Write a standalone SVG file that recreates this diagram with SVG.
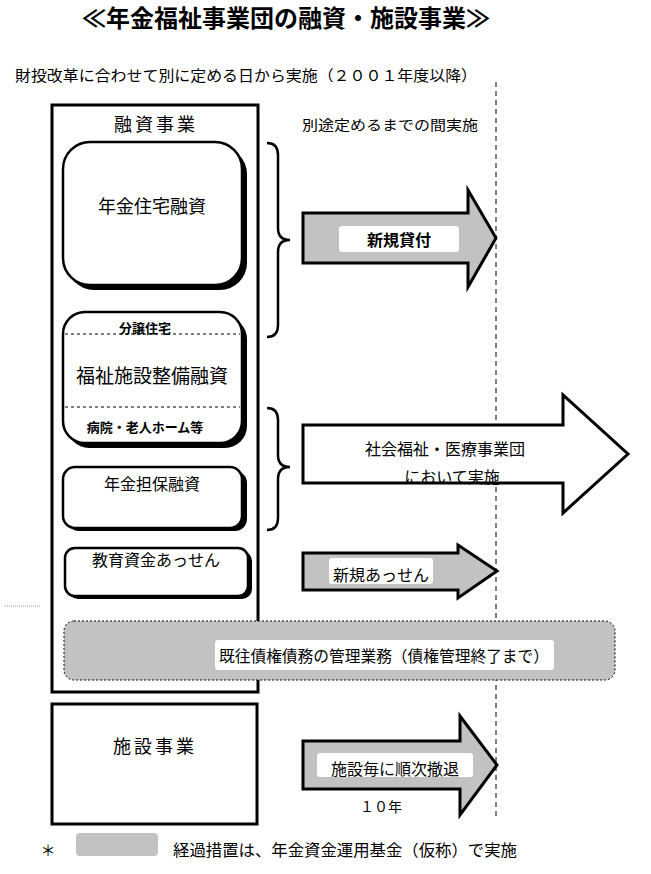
<svg xmlns="http://www.w3.org/2000/svg" width="651" height="874" viewBox="0 0 651 874">
<defs>
<style>
text{font-family:"Noto Sans CJK JP","Noto Sans CJK SC",sans-serif;fill:#000;}
.c{text-anchor:middle;}
.b{font-weight:bold;}
.box{fill:#fff;stroke:#000;stroke-width:2.5;}
.shadow{fill:#000;}
.arrow{stroke:#000;stroke-width:3;stroke-linejoin:miter;}
.gray{fill:#c2c2c2;}
.brace{fill:none;stroke:#000;stroke-width:2.5;}
.inner{stroke:#000;stroke-width:1;stroke-dasharray:3,3;}
.lbl{fill:#fff;}
</style>
</defs>
<rect width="651" height="874" fill="#fff"/>

<g id="connectors">
<line x1="496" y1="82" x2="496" y2="820" stroke="#000" stroke-width="1" stroke-dasharray="5,4"/>
<line x1="5" y1="606" x2="40" y2="606" stroke="#999" stroke-width="1" stroke-dasharray="1,1"/>
<path class="brace" d="M267,143 Q278,143 278,155 L278,228 Q278,240 290,240 Q278,240 278,252 L278,325 Q278,337 267,337"/>
<path class="brace" d="M267,408 Q278,408 278,420 L278,455 Q278,467 290,467 Q278,467 278,479 L278,518 Q278,530 267,530"/>
</g>

<g id="title">
<text x="286" y="27" class="c b" font-size="24">≪年金福祉事業団の融資・施設事業≫</text>
</g>
<g id="subtitle">
<text x="15" y="81" font-size="15" textLength="462" lengthAdjust="spacingAndGlyphs">財投改革に合わせて別に定める日から実施（２００１年度以降）</text>
</g>
<g id="note-top">
<text x="302" y="130" font-size="14" textLength="176" lengthAdjust="spacingAndGlyphs">別途定めるまでの間実施</text>
</g>

<g id="yushi-jigyo">
<rect x="52" y="105" width="206" height="587" fill="none" stroke="#000" stroke-width="3"/>
<text x="156" y="131" class="c" font-size="18" letter-spacing="3">融資事業</text>
</g>

<g id="nenkin-jutaku">
<rect class="shadow" x="67" y="147" width="180" height="143" rx="27"/>
<rect class="box" x="63" y="142" width="179" height="143" rx="27"/>
<text x="152" y="213" class="c" font-size="18">年金住宅融資</text>
</g>

<g id="fukushi-shisetsu">
<rect class="shadow" x="67" y="317" width="180" height="131" rx="22"/>
<rect class="box" x="63" y="312" width="179" height="131" rx="22"/>
<line class="inner" x1="65" y1="334" x2="240" y2="334"/>
<line class="inner" x1="65" y1="407" x2="240" y2="407"/>
<text x="145" y="333" class="c b" font-size="13">分譲住宅</text>
<text x="152" y="383" class="c" font-size="19">福祉施設整備融資</text>
<text x="145" y="432" class="c b" font-size="13">病院・老人ホーム等</text>
</g>

<g id="nenkin-tanpo">
<rect class="shadow" x="67" y="471" width="180" height="60" rx="12"/>
<rect class="box" x="63" y="467" width="179" height="61" rx="12"/>
<text x="152" y="490" class="c" font-size="16">年金担保融資</text>
</g>

<g id="kyoiku">
<rect class="shadow" x="68" y="551" width="184" height="48" rx="10"/>
<rect class="box" x="65" y="548" width="183" height="48" rx="10"/>
<text x="156" y="566" class="c" font-size="16">教育資金あっせん</text>
</g>

<g id="shinki-kashitsuke">
<path class="arrow gray" d="M303,213 L468,213 L468,190 L496,238 L468,287 L468,263 L303,263 Z"/>
<rect class="lbl" x="339" y="226" width="120" height="26" rx="3"/>
<text x="399" y="246" class="c b" font-size="16">新規貸付</text>
</g>

<g id="shakai-fukushi">
<path class="arrow" fill="#fff" d="M303,425 L563,425 L563,395 L628,454 L563,513 L563,483 L303,483 Z"/>
<text x="445" y="455" class="c" font-size="16">社会福祉・医療事業団</text>
<text x="452" y="483" class="c" font-size="16">において実施</text>
</g>

<g id="shinki-assen">
<path class="arrow gray" d="M303,553 L458,553 L458,545 L497,571 L458,598 L458,590 L303,590 Z"/>
<rect class="lbl" x="329" y="558" width="104" height="26" rx="3"/>
<text x="381" y="581" class="c" font-size="16">新規あっせん</text>
</g>

<g id="kiou-kanri">
<rect class="gray" x="64" y="621" width="551" height="59" rx="10" stroke="#000" stroke-width="1" stroke-dasharray="2,2"/>
<rect class="lbl" x="215" y="640" width="339" height="30" rx="3"/>
<text x="384" y="662" class="c" font-size="16" textLength="330" lengthAdjust="spacingAndGlyphs">既往債権債務の管理業務（債権管理終了まで）</text>
</g>

<g id="shisetsu-jigyo">
<rect x="52" y="704" width="205" height="120" fill="#fff" stroke="#000" stroke-width="3"/>
<text x="155" y="753" class="c" font-size="18" letter-spacing="3">施設事業</text>
</g>

<g id="shisetsu-tettai">
<path class="arrow gray" d="M303,741 L460,741 L460,716 L497,765 L460,815 L460,789 L303,789 Z"/>
<rect class="lbl" x="317" y="753" width="156" height="24" rx="3"/>
<text x="395" y="775" class="c" font-size="16">施設毎に順次撤退</text>
<text x="381" y="812" class="c" font-size="14">１０年</text>
</g>

<g id="legend">
<text x="48" y="856" class="c" font-size="15">＊</text>
<rect class="gray" x="76" y="833" width="82" height="23" rx="4"/>
<text x="173" y="856" font-size="16" textLength="344" lengthAdjust="spacingAndGlyphs">経過措置は、年金資金運用基金（仮称）で実施</text>
</g>
</svg>
